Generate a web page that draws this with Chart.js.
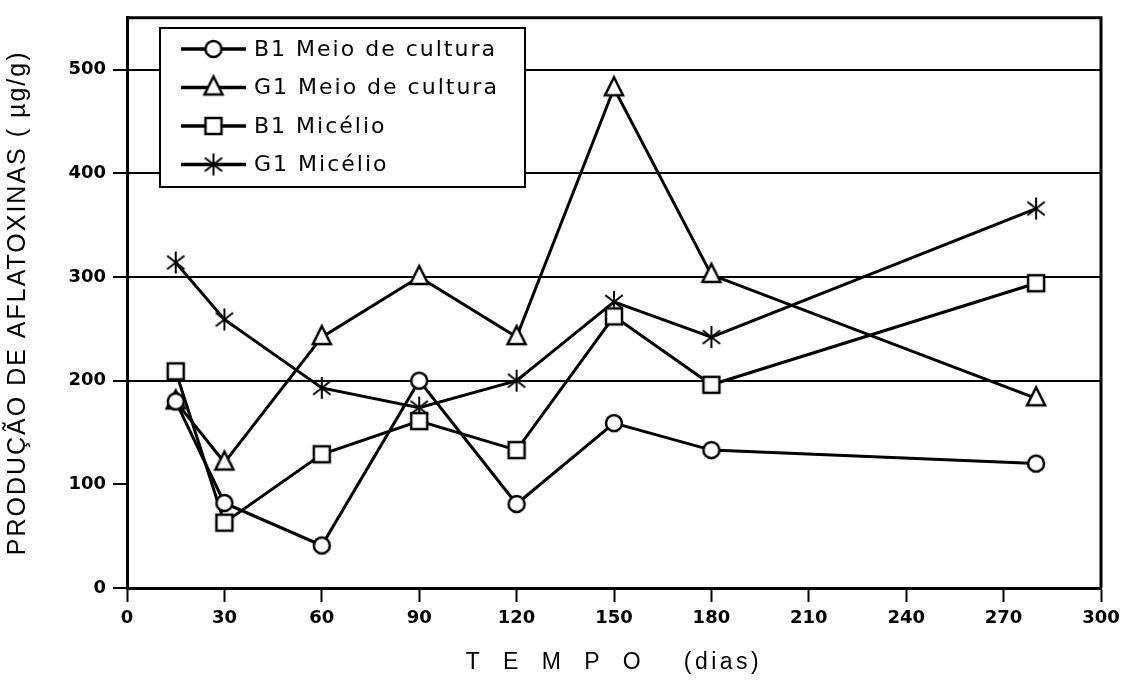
<!DOCTYPE html>
<html>
<head>
<meta charset="utf-8">
<title>Produção de aflatoxinas</title>
<script src="https://cdn.jsdelivr.net/npm/chart.js@4.4.1/dist/chart.umd.min.js"></script>
<style>
  html, body { margin: 0; padding: 0; background: #fff; }
  #wrap { width: 1141px; height: 686px; position: relative; }
</style>
</head>
<body>
<div id="wrap"><canvas id="c" width="1141" height="686"></canvas></div>
<script>
// Sampling days (TEMPO, dias)
const days = [15, 30, 60, 90, 120, 150, 180, 280];

// Aflatoxin production (µg/g) per series
const b1Meio    = [180, 82, 41, 200, 81, 159, 133, 120];
const g1Meio    = [180, 121, 242, 300, 242, 482, 302, 183];
const b1Micelio = [209, 63, 129, 161, 133, 262, 196, 294];
const g1Micelio = [314, 259, 193, 174, 200, 276, 242, 366];

const seriesLabels = ['B1 Meio de cultura', 'G1 Meio de cultura', 'B1 Micélio', 'G1 Micélio'];
const seriesMarkers = ['circle', 'triangle', 'square', 'asterisk'];

// Axis ticks
const xTicks = [0, 30, 60, 90, 120, 150, 180, 210, 240, 270, 300];
const yTicks = [0, 100, 200, 300, 400, 500];
const yGridValues = [200, 300, 400, 500];

const xTitle = 'T  E  M  P  O    (dias)';
const yTitle = 'PRODUÇÃO DE AFLATOXINAS ( µg/g)';

// Extra letter spacing for the axis titles
const titleSpacing = { x: '3.5px', y: '2px' };
const baseDrawTitle = Chart.Scale.prototype.drawTitle;
Chart.Scale.prototype.drawTitle = function () {
  const c = this.ctx;
  c.save();
  c.letterSpacing = titleSpacing[this.id] || '0px';
  baseDrawTitle.apply(this, arguments);
  c.restore();
};

// Marker glyphs drawn once on small canvases
function makeMarker(kind) {
  const s = 30, m = s / 2;
  const cv = document.createElement('canvas');
  cv.width = cv.height = s;
  const g = cv.getContext('2d');
  g.strokeStyle = '#000';
  g.fillStyle = '#fff';
  g.lineWidth = 2.5;
  g.beginPath();
  if (kind === 'circle') {
    g.arc(m, m, 8, 0, Math.PI * 2);
  } else if (kind === 'square') {
    g.rect(m - 8, m - 8, 16, 16);
  } else if (kind === 'triangle') {
    g.moveTo(m, m - 11);
    g.lineTo(m + 9, m + 7);
    g.lineTo(m - 9, m + 7);
    g.closePath();
  }
  if (kind === 'asterisk') {
    for (const deg of [90, 38, 142]) {
      const r = deg * Math.PI / 180;
      g.moveTo(m + Math.cos(r) * 11, m - Math.sin(r) * 11);
      g.lineTo(m - Math.cos(r) * 11, m + Math.sin(r) * 11);
    }
    g.lineWidth = 2;
    g.stroke();
  } else {
    g.fill();
    g.stroke();
  }
  return cv;
}

const markerImages = seriesMarkers.map(makeMarker);
const seriesValues = [b1Meio, g1Meio, b1Micelio, g1Micelio];

const datasets = seriesValues.map((vals, i) => ({
  label: seriesLabels[i],
  data: days.map((d, k) => ({ x: d, y: vals[k] })),
  borderColor: '#000',
  borderWidth: 3,
  backgroundColor: '#fff',
  pointStyle: markerImages[i],
  pointRadius: 9,
  tension: 0,
  fill: false,
  clip: false
}));

// Plot frame: top and right edges
const framePlugin = {
  id: 'frame',
  afterDatasetsDraw(chart) {
    const { ctx, chartArea: a } = chart;
    ctx.save();
    ctx.strokeStyle = '#000';
    ctx.lineWidth = 3;
    ctx.beginPath();
    ctx.moveTo(a.left, a.top);
    ctx.lineTo(a.right, a.top);
    ctx.lineTo(a.right, a.bottom);
    ctx.stroke();
    ctx.restore();
  }
};

// Boxed legend with line + marker samples
const legendBox = { left: 160, top: 28, width: 365, height: 159, rowTop: 49, rowGap: 38.5,
                    lineFrom: 181, lineTo: 246, textX: 254 };
const legendPlugin = {
  id: 'boxLegend',
  afterDatasetsDraw(chart) {
    const ctx = chart.ctx, L = legendBox;
    ctx.save();
    ctx.fillStyle = '#fff';
    ctx.fillRect(L.left, L.top, L.width, L.height);
    ctx.strokeStyle = '#000';
    ctx.lineWidth = 2;
    ctx.strokeRect(L.left, L.top, L.width, L.height);
    ctx.font = '22px "DejaVu Sans"';
    ctx.letterSpacing = '2px';
    ctx.textBaseline = 'middle';
    ctx.fillStyle = '#000';
    chart.data.datasets.forEach((ds, i) => {
      const y = L.rowTop + i * L.rowGap;
      ctx.lineWidth = 3.5;
      ctx.beginPath();
      ctx.moveTo(L.lineFrom, y);
      ctx.lineTo(L.lineTo, y);
      ctx.stroke();
      const img = ds.pointStyle;
      const mx = (L.lineFrom + L.lineTo) / 2;
      ctx.drawImage(img, mx - img.width / 2, y - img.height / 2);
      ctx.fillText(ds.label, L.textX, y + 1);
    });
    ctx.restore();
  }
};

const tickFont = { family: 'DejaVu Sans', size: 18, weight: 'bold' };

new Chart(document.getElementById('c'), {
  type: 'line',
  data: { datasets },
  plugins: [framePlugin, legendPlugin],
  options: {
    responsive: false,
    animation: false,
    devicePixelRatio: 1,
    layout: { padding: { left: 0, top: 9, right: 40, bottom: 0 } },
    plugins: { legend: { display: false }, tooltip: { enabled: false } },
    scales: {
      x: {
        type: 'linear',
        min: 0,
        max: 300,
        afterBuildTicks: s => { s.ticks = xTicks.map(v => ({ value: v })); },
        afterFit: s => { s.height = 98; },
        grid: { drawOnChartArea: false, color: '#000', tickColor: '#000', tickLength: 14, tickWidth: 2 },
        border: { color: '#000', width: 3 },
        ticks: { color: '#000', font: tickFont, padding: 6, maxRotation: 0, autoSkip: false },
        title: { display: true, text: xTitle, color: '#000',
                 font: { family: 'Liberation Sans', size: 23 }, padding: { top: 0, bottom: 10 } }
      },
      y: {
        type: 'linear',
        min: 0,
        max: 550,
        afterBuildTicks: s => { s.ticks = yTicks.map(v => ({ value: v })); },
        afterFit: s => { s.width = 127; },
        grid: {
          color: c => (c.tick && yGridValues.includes(c.tick.value)) ? '#000' : 'rgba(0,0,0,0)',
          lineWidth: 2,
          tickColor: '#000',
          tickLength: 14,
          tickWidth: 2
        },
        border: { color: '#000', width: 3 },
        ticks: { color: '#000', font: tickFont, padding: 7 },
        title: { display: true, text: yTitle, color: '#000',
                 font: { family: 'Liberation Sans', size: 25 }, padding: { top: 3, bottom: 0 } }
      }
    }
  }
});
</script>
</body>
</html>
